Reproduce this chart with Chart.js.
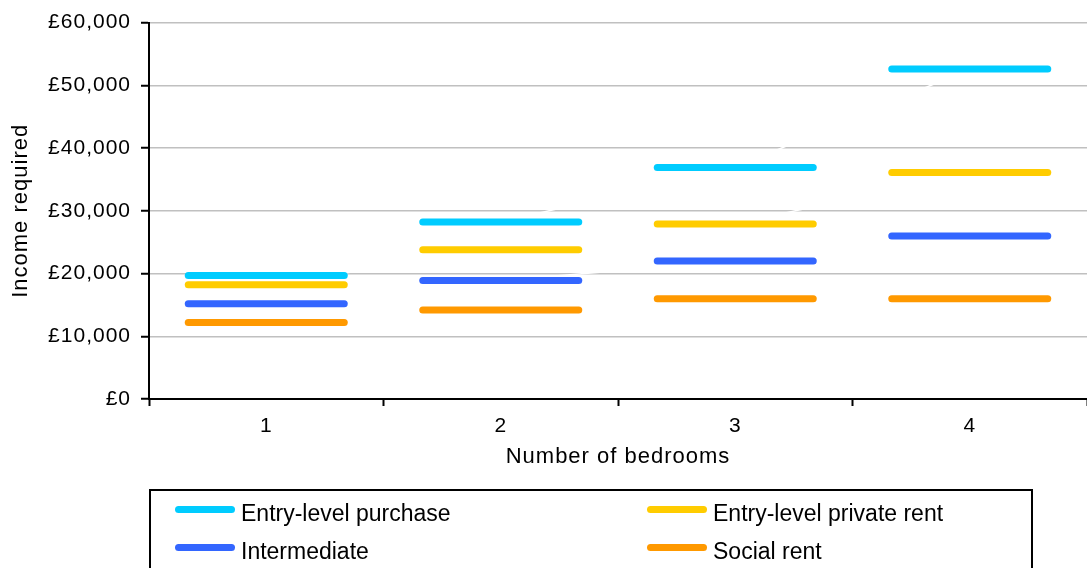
<!DOCTYPE html>
<html>
<head>
<meta charset="utf-8">
<script src="https://cdn.jsdelivr.net/npm/chart.js@4/dist/chart.umd.min.js"></script>
<style>
    html, body { margin: 0; padding: 0; background: #fff; overflow: hidden; }
    #wrap { position: relative; width: 1087px; height: 568px; }
    #legend {
        position: absolute; left: 149px; top: 489px; width: 884px; height: 100px;
        border: 2px solid #000; box-sizing: border-box;
        font-family: 'Liberation Sans', Arial, sans-serif; font-size: 23px; color: #000;
    }
    .item { position: absolute; line-height: 23px; white-space: nowrap; padding-left: 66px; }
    .item span { position: absolute; left: 0; top: 4px; width: 60px; height: 7px; border-radius: 4px; }
</style>
</head>
<body>
<div id="wrap">
    <canvas id="incomeChart" width="1087" height="568"></canvas>
    <div id="legend"></div>
</div>
<script>
const bedrooms = ['1', '2', '3', '4'];
const seriesNames = ['Entry-level purchase', 'Entry-level private rent', 'Intermediate', 'Social rent'];
const entryPurchase = [19700, 28200, 36900, 52600];
const entryPrivateRent = [18200, 23800, 27900, 36100];
const intermediate = [15200, 18900, 22000, 26000];
const socialRent = [12200, 14200, 16000, 16000];
const seriesColors = ['#00ccff', '#ffcc00', '#3366ff', '#ff9900'];
const yTicks = [0, 10000, 20000, 30000, 40000, 50000, 60000];

const seriesValues = [entryPurchase, entryPrivateRent, intermediate, socialRent];

// text spacing + round ends for the dash markers
const canvasStyle = {
    id: 'canvasStyle',
    beforeLayout(chart) { chart.ctx.letterSpacing = '1px'; },
    beforeDraw(chart) { chart.ctx.letterSpacing = '1px'; },
    beforeDatasetsDraw(chart) { chart.ctx.lineCap = 'round'; }
};

const ctx = document.getElementById('incomeChart').getContext('2d');
new Chart(ctx, {
    type: 'line',
    data: {
        labels: bedrooms,
        datasets: seriesValues.map(function(vals, i) {
            return {
                label: seriesNames[i],
                data: vals,
                borderColor: '#ffffff',
                borderWidth: 1.5,
                pointStyle: 'line',
                pointRadius: 78,
                pointHoverRadius: 78,
                pointBorderWidth: 7,
                pointHoverBorderWidth: 7,
                pointBorderColor: seriesColors[i],
                pointBackgroundColor: seriesColors[i]
            };
        })
    },
    options: {
        responsive: false,
        animation: false,
        events: [],
        layout: { autoPadding: false, padding: { left: 0, right: 0, top: 20, bottom: 94 } },
        font: { family: "'Liberation Sans', Arial, sans-serif" },
        plugins: {
            legend: { display: false },
            tooltip: { enabled: false }
        },
        scales: {
            x: {
                offset: true,
                grid: {
                    offset: true,
                    drawOnChartArea: false,
                    drawTicks: true,
                    tickLength: 7,
                    tickColor: '#000',
                    tickWidth: 2
                },
                border: { color: '#000', width: 2 },
                ticks: {
                    color: '#000',
                    padding: 8,
                    font: { family: "'Liberation Sans', Arial, sans-serif", size: 21 }
                },
                title: {
                    display: true,
                    text: 'Number of bedrooms',
                    color: '#000',
                    padding: { top: 0, bottom: 4 },
                    font: { family: "'Liberation Sans', Arial, sans-serif", size: 22 }
                },
                afterFit: function(scale) { scale.height = 75; }
            },
            y: {
                min: 0,
                max: 60000,
                afterBuildTicks: function(scale) {
                    scale.ticks = yTicks.map(function(v) { return { value: v }; });
                },
                grid: {
                    color: '#c0c0c0',
                    lineWidth: 1.5,
                    tickLength: 8,
                    tickColor: '#000',
                    tickWidth: 2
                },
                border: { color: '#000', width: 2 },
                ticks: {
                    color: '#000',
                    padding: 10,
                    font: { family: "'Liberation Sans', Arial, sans-serif", size: 21 },
                    callback: function(value) {
                        return '£' + value.toLocaleString('en-GB');
                    }
                },
                title: {
                    display: true,
                    text: 'Income required',
                    color: '#000',
                    padding: { top: 8, bottom: 0 },
                    font: { family: "'Liberation Sans', Arial, sans-serif", size: 22 }
                },
                afterFit: function(scale) { scale.width = 149; }
            }
        }
    },
    plugins: [canvasStyle]
});

// legend box below the chart
const legendPos = [[24, 11], [496, 11], [24, 49], [496, 49]];
const legend = document.getElementById('legend');
seriesNames.forEach(function(name, i) {
    const item = document.createElement('div');
    item.className = 'item';
    item.style.left = legendPos[i][0] + 'px';
    item.style.top = legendPos[i][1] + 'px';
    const line = document.createElement('span');
    line.style.background = seriesColors[i];
    item.appendChild(line);
    item.appendChild(document.createTextNode(name));
    legend.appendChild(item);
});
</script>
</body>
</html>
